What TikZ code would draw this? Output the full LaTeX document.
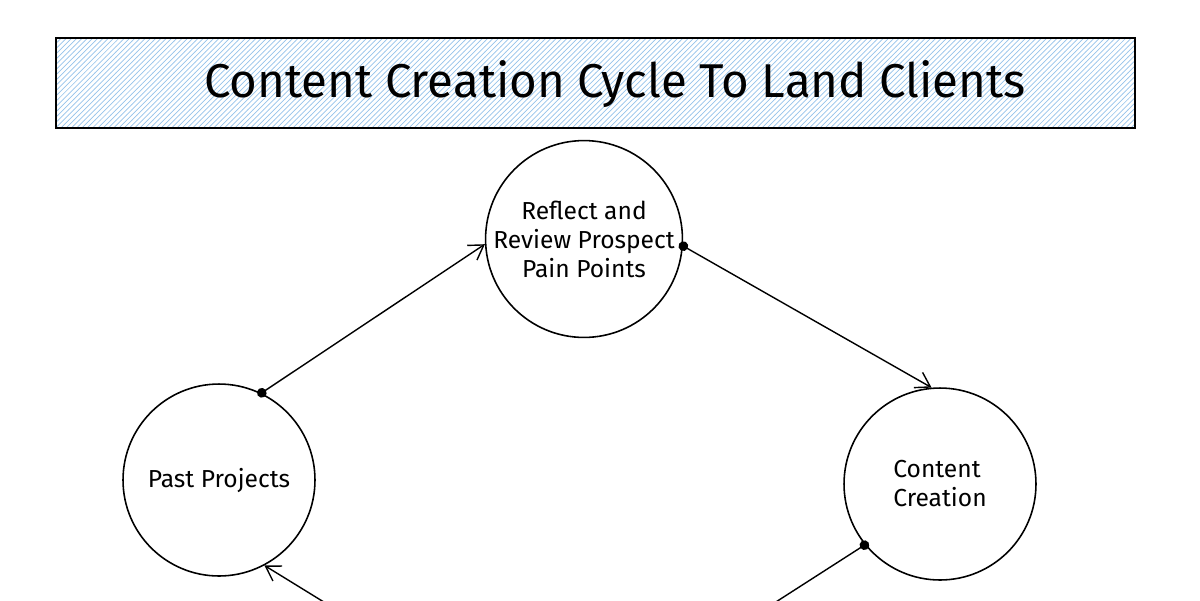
\documentclass[tikz,border=0pt]{standalone}
\usepackage{fontspec}
\setmainfont{Fira Sans}
\usetikzlibrary{arrows.meta,patterns}
\definecolor{hatchblue}{RGB}{150,195,235}
\tikzset{
  stage/.style={draw,circle,line width=0.9pt,minimum size=3.84cm,inner sep=0pt,
    align=center,font=\fontsize{14}{16.5}\selectfont},
  flow/.style={line width=0.8pt,shorten <=-2.5pt,
    {Circle[length=5.5pt]}-{Straight Barb[length=8pt,width=10pt]}},
}
\begin{document}
\begin{tikzpicture}[x=0.02cm,y=-0.02cm]
            \useasboundingbox (0,0) rectangle (1200,600);
            \clip (0,0) rectangle (1200,600);
            \fill[white] (0,0) rectangle (1200,600);
            % title bar
            \draw[line width=1.1pt,pattern=north east lines,pattern color=hatchblue] (56,38) rectangle (1135,128);
            \node[font=\fontsize{27}{30}\selectfont] (title) at (615,84) {Content Creation Cycle To Land Clients};
            % stages
            \node[stage] (review) at (584,239) {Reflect and\\Review Prospect\\Pain Points};
            \node[stage] (past) at (219,480) {Past Projects};
            \node[stage,align=left] (content) at (940,484) {Content\\Creation};
            \coordinate (offL) at (345,615);
            \coordinate (offR) at (740,625);
            % cycle
            \draw[flow] (past.64) -- (review.183);
            \draw[flow] (review.-4) -- (content.95);
            \draw[flow] (content.219) -- (offR);
            \draw[flow] (offL) -- (past.-62);
        \end{tikzpicture}
\end{document}
